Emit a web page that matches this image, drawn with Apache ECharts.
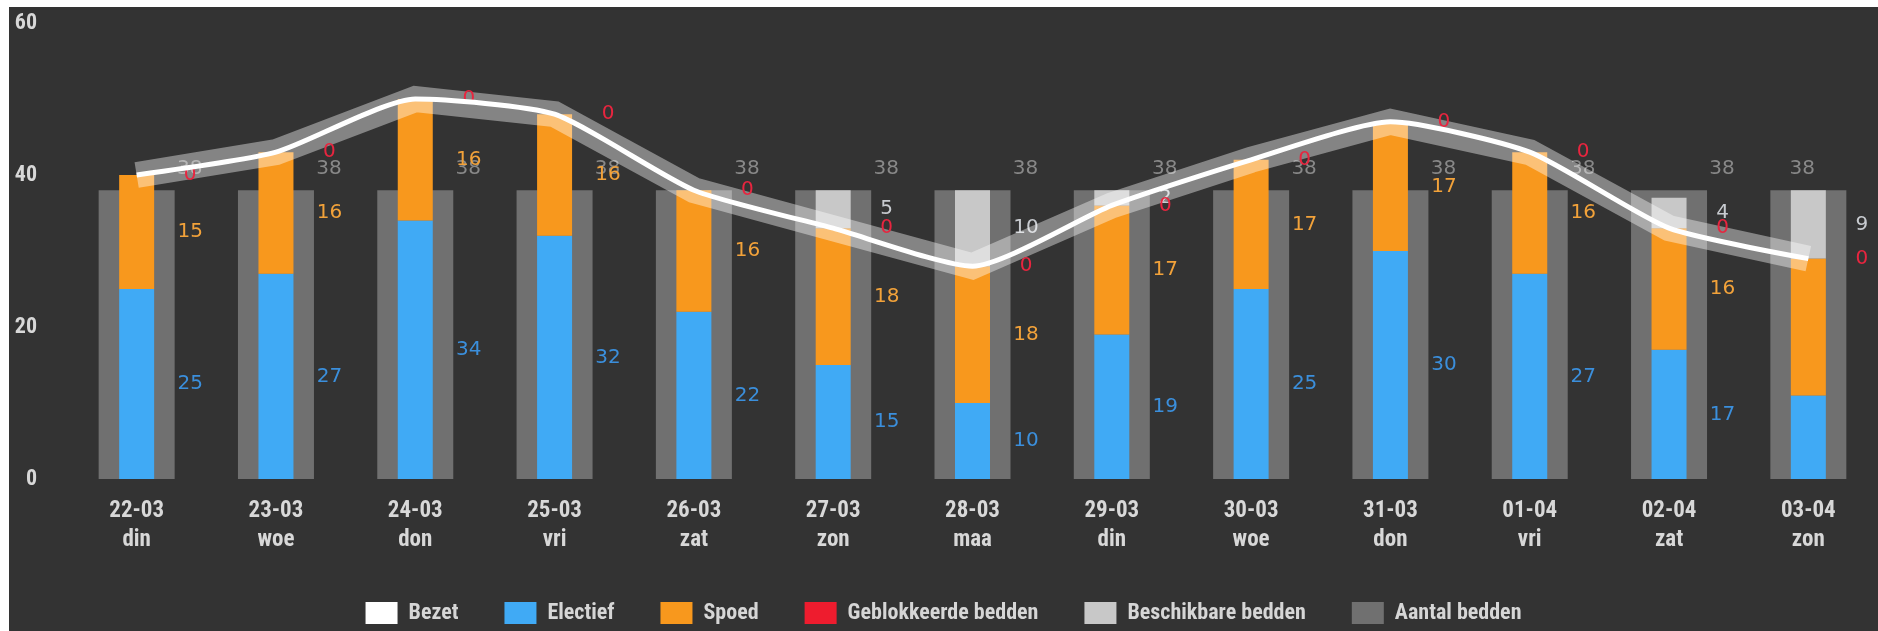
<!DOCTYPE html>
<html>
<head>
<meta charset="utf-8">
<script src="https://cdn.jsdelivr.net/npm/echarts@6/dist/echarts.min.js"></script>
<style>
  html, body { margin: 0; padding: 0; background: #ffffff; }
  #chart { position: absolute; left: 9px; top: 7px; width: 1869px; height: 624px; background: #333333; }
</style>
</head>
<body>
<div id="chart"></div>
<script>
// categorieën
const dates = ['22-03', '23-03', '24-03', '25-03', '26-03', '27-03', '28-03', '29-03', '30-03', '31-03', '01-04', '02-04', '03-04']
const days = ['din', 'woe', 'don', 'vri', 'zat', 'zon', 'maa', 'din', 'woe', 'don', 'vri', 'zat', 'zon']

// waarden per dag
const electief = [25, 27, 34, 32, 22, 15, 10, 19, 25, 30, 27, 17, 11]
const spoed = [15, 16, 16, 16, 16, 18, 18, 17, 17, 17, 16, 16, 18]
const geblokkeerd = [0, 0, 0, 0, 0, 0, 0, 0, 0, 0, 0, 0, 0]
const beschikbaar = [null, null, null, null, null, 5, 10, 2, null, null, null, 4, 9]
const aantal = [38, 38, 38, 38, 38, 38, 38, 38, 38, 38, 38, 38, 38]
const bezet = [40, 43, 50, 48, 38, 33, 28, 36, 42, 47, 43, 33, 29]

const yTicks = [0, 20, 40, 60]

const categories = dates.map((d, i) => d + '\n' + days[i])
const last = dates.length - 1

const axisFont = "'Liberation Sans Narrow', 'Roboto Condensed', 'DejaVu Sans Condensed', sans-serif"
const labelFont = "'DejaVu Sans', Verdana, sans-serif"

// label rechts naast de smalle balk
const sideLabel = (color) => ({
  show: true,
  position: ['100%', '50%'],
  offset: [36, 0],
  align: 'center',
  verticalAlign: 'middle',
  color: color,
  fontFamily: labelFont,
  fontSize: 20
})

const chart = echarts.init(document.getElementById('chart'))

const option = {
  animation: false,
  backgroundColor: '#333333',
  grid: { left: 58, top: 16, width: 1813, height: 456 },
  legend: {
    data: ['Bezet', 'Electief', 'Spoed', 'Geblokkeerde bedden', 'Beschikbare bedden', 'Aantal bedden'],
    top: 590,
    left: 'center',
    icon: 'rect',
    itemWidth: 32,
    itemHeight: 22,
    itemGap: 46,
    textStyle: {
      color: '#d6d6d6',
      fontFamily: axisFont,
      fontWeight: 'bold',
      fontSize: 22,
      padding: [0, 0, 0, 6]
    }
  },
  xAxis: [
    {
      type: 'category',
      data: categories,
      axisLine: { show: false },
      axisTick: { show: false },
      axisLabel: {
        color: '#d8d8d8',
        fontFamily: axisFont,
        fontWeight: 'bold',
        fontSize: 23,
        lineHeight: 29,
        margin: 18
      }
    },
    {
      type: 'category',
      data: categories,
      show: false
    }
  ],
  yAxis: {
    type: 'value',
    min: yTicks[0],
    max: yTicks[yTicks.length - 1],
    interval: 20,
    splitLine: { show: false },
    axisLine: { show: false },
    axisTick: { show: false },
    axisLabel: {
      color: '#d8d8d8',
      fontFamily: axisFont,
      fontWeight: 'bold',
      fontSize: 22,
      margin: 30
    }
  },
  series: [
    {
      name: 'Aantal bedden',
      type: 'bar',
      xAxisIndex: 1,
      barWidth: 76,
      z: 1,
      itemStyle: { color: '#707070' },
      label: {
        show: true,
        position: ['100%', 0],
        offset: [15, -21],
        align: 'center',
        verticalAlign: 'middle',
        color: '#888888',
        fontFamily: labelFont,
        fontSize: 20
      },
      data: aantal.map((v, i) => i === last ? { value: v, label: { offset: [-44, -21] } } : v)
    },
    {
      name: 'Electief',
      type: 'bar',
      stack: 'bedden',
      barWidth: 35,
      z: 2,
      itemStyle: { color: '#40aaf5' },
      label: sideLabel('#3b8fdc'),
      data: electief.map((v, i) => i === last ? { value: v, label: { show: false } } : v)
    },
    {
      name: 'Spoed',
      type: 'bar',
      stack: 'bedden',
      barWidth: 35,
      z: 2,
      itemStyle: { color: '#f8981d' },
      label: sideLabel('#f2a23a'),
      data: spoed.map((v, i) => i === last ? { value: v, label: { show: false } } : v)
    },
    {
      name: 'Geblokkeerde bedden',
      type: 'bar',
      stack: 'bedden',
      barWidth: 35,
      z: 4,
      itemStyle: { color: '#ee1c2e' },
      label: sideLabel('#e8253f'),
      data: geblokkeerd
    },
    {
      name: 'Beschikbare bedden',
      type: 'bar',
      stack: 'bedden',
      barWidth: 35,
      z: 2,
      itemStyle: { color: '#c8c8c8' },
      label: sideLabel('#c8cbd0'),
      data: beschikbaar
    },
    {
      // lichte band rond de bezetting
      name: 'band',
      type: 'line',
      data: bezet,
      z: 3,
      symbol: 'none',
      silent: true,
      lineStyle: { color: 'rgba(255,255,255,0.4)', width: 26, cap: 'butt', join: 'miter' }
    },
    {
      name: 'Bezet',
      type: 'line',
      data: bezet,
      z: 5,
      symbol: 'none',
      smooth: 0.2,
      itemStyle: { color: '#ffffff' },
      lineStyle: { color: '#ffffff', width: 5 }
    }
  ]
}

chart.setOption(option)
</script>
</body>
</html>
